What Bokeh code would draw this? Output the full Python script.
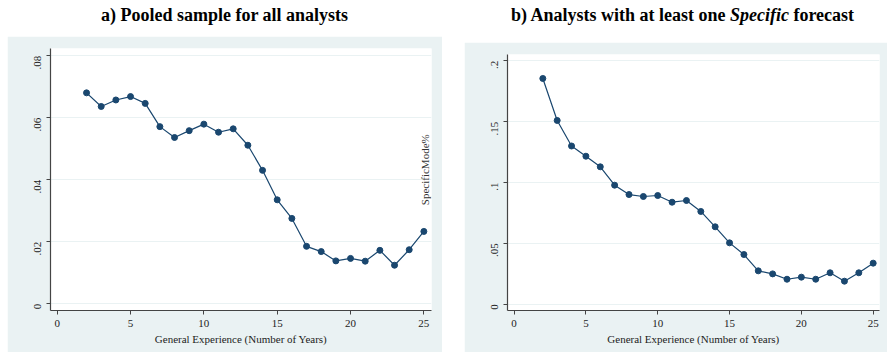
import math
from bokeh.plotting import figure
from bokeh.layouts import row, column
from bokeh.models import Div, Spacer, FixedTicker, ColumnDataSource
from bokeh.core.properties import value
from bokeh.embed import file_html
from bokeh.resources import INLINE

years = list(range(2, 26))
pooled = [0.0680, 0.0636, 0.0657, 0.0668, 0.0646, 0.0571, 0.0536, 0.0558, 0.0579,
          0.0553, 0.0564, 0.0511, 0.0430, 0.0335, 0.0275, 0.0185, 0.0168, 0.0138,
          0.0146, 0.0137, 0.0172, 0.0124, 0.0174, 0.0233]
specific = [0.1855, 0.1510, 0.1300, 0.1216, 0.1129, 0.0978, 0.0901, 0.0885, 0.0893,
            0.0838, 0.0852, 0.0762, 0.0636, 0.0504, 0.0408, 0.0274, 0.0249, 0.0205,
            0.0222, 0.0205, 0.0258, 0.0189, 0.0258, 0.0337]
x_ticks = [0, 5, 10, 15, 20, 25]
y_ticks_a = [0, 0.02, 0.04, 0.06, 0.08]
y_labels_a = ["0", ".02", ".04", ".06", ".08"]
y_ticks_b = [0, 0.05, 0.1, 0.15, 0.2]
y_labels_b = ["0", ".05", ".1", ".15", ".2"]
x_title = "General Experience (Number of Years)"
stray_label = "SpecificMode%"

BG = "#EAF2F3"
NAVY = "#1A476F"
FONT = "Liberation Serif"


def make_fig(w, h, xr, yr, yt, yl, yvals, borders):
    p = figure(width=w, height=h, x_range=xr, y_range=yr, output_backend="svg",
               toolbar_location=None, tools="",
               min_border_left=borders[0], min_border_right=borders[1],
               min_border_top=borders[2], min_border_bottom=borders[3])
    p.border_fill_color = BG
    p.background_fill_color = "white"
    p.outline_line_color = None
    src = ColumnDataSource(dict(x=years, y=yvals))
    p.line("x", "y", source=src, line_color=NAVY, line_width=1.2)
    p.scatter("x", "y", source=src, size=6, fill_color=NAVY, line_color=NAVY)
    p.xaxis.ticker = FixedTicker(ticks=x_ticks)
    p.yaxis.ticker = FixedTicker(ticks=yt)
    p.yaxis.major_label_overrides = {t: l for t, l in zip(yt, yl)}
    p.yaxis.major_label_orientation = math.pi / 2
    for ax in (p.xaxis[0], p.yaxis[0]):
        ax.axis_line_color = "#444444"
        ax.axis_line_width = 1.2
        ax.major_tick_line_color = "#444444"
        ax.major_tick_in = 0
        ax.major_tick_out = 4
        ax.minor_tick_line_color = None
        ax.major_label_text_font = FONT
        ax.major_label_text_font_size = "11px"
        ax.major_label_text_color = "#222222"
    p.xaxis.major_label_standoff = 5
    p.yaxis.major_label_standoff = 9
    p.xaxis.axis_label = x_title
    p.xaxis.axis_label_text_font = FONT
    p.xaxis.axis_label_text_font_size = "11px"
    p.xaxis.axis_label_text_font_style = "normal"
    p.xaxis.axis_label_text_color = "#222222"
    p.xaxis.axis_label_standoff = 3
    p.xgrid.grid_line_color = None
    p.ygrid.grid_line_color = BG
    p.ygrid.grid_line_width = 1.2
    return p


pa = make_fig(435, 316, (-0.457, 25.52), (-0.0022, 0.0823), y_ticks_a, y_labels_a,
              pooled, (43, 11, 12, 42))
pa.text(x=[25.1], y=[0.0432], text=[stray_label], angle=math.pi / 2,
        text_align="center", text_baseline="middle",
        text_font=value(FONT), text_font_size="11px", text_color="#333333")

pb = make_fig(423, 310, (-0.459, 25.44), (-0.0052, 0.2052), y_ticks_b, y_labels_b,
              specific, (43, 8, 12, 42))

title_style = {"font-family": FONT, "font-weight": "bold", "font-size": "18px",
               "color": "#000000", "text-align": "center", "width": "100%",
               "margin": "0", "padding-top": "6px", "line-height": "1.1"}
ta = Div(text="a) Pooled sample for all analysts", width=435, height=36,
         styles=title_style, margin=0)
tb = Div(text="b) Analysts with at least one <i>Specific</i> forecast", width=423, height=42,
         styles=dict(title_style, **{"padding-left": "14px"}), margin=0)

layout = row(Spacer(width=7, height=10), column(ta, pa, spacing=0),
             Spacer(width=22, height=10), column(tb, pb, spacing=0), spacing=0)

open("out.html", "w").write(file_html(layout, INLINE))
